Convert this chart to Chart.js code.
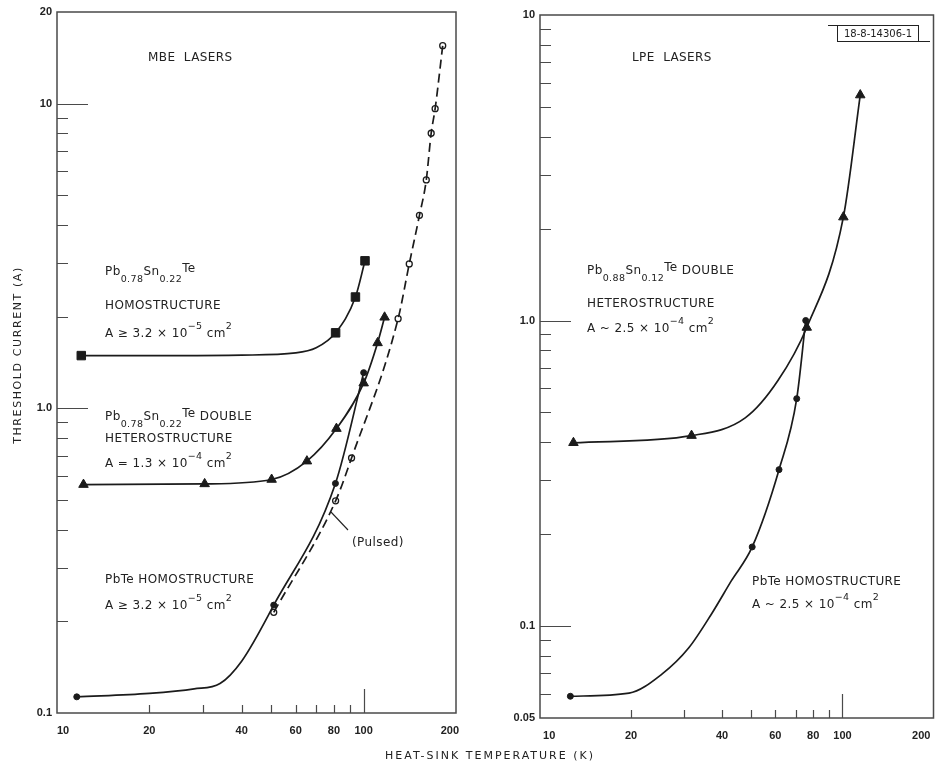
<!DOCTYPE html>
<html>
<head>
<meta charset="utf-8">
<script src="https://cdn.jsdelivr.net/npm/chart.js@4.4.1/dist/chart.umd.min.js"></script>
<style>
  body { margin: 0; background: #fff; }
  .wrap { position: relative; width: 940px; height: 766px; }
  canvas { position: absolute; left: 0; top: 0; }
</style>
</head>
<body>
<div class="wrap">
  <canvas id="mbe" width="940" height="766"></canvas>
  <canvas id="lpe" width="940" height="766"></canvas>
</div>
<script>
// ---- MBE lasers (left panel) ----
// Pb0.78Sn0.22Te homostructure (squares)
const mbeHomoT = [12, 81, 94, 101];
const mbeHomoI = [1.49, 1.77, 2.32, 3.05];
const mbeHomoCurveT = [12, 25, 40, 60, 70, 81, 94, 101];
const mbeHomoCurveI = [1.49, 1.49, 1.495, 1.52, 1.58, 1.77, 2.32, 3.05];
// Pb0.78Sn0.22Te double heterostructure (triangles)
const mbeDhT = [12.2, 30.3, 50.1, 65.3, 81.5, 100, 111, 117];
const mbeDhI = [0.562, 0.565, 0.584, 0.671, 0.858, 1.21, 1.64, 1.99];
// PbTe homostructure (dots)
const mbePbT = [11.6, 50.9, 80.9, 100];
const mbePbI = [0.113, 0.226, 0.567, 1.31];
const mbePbCurveT = [11.6, 20, 28, 34, 40, 50.9, 80.9, 100];
const mbePbCurveI = [0.113, 0.116, 0.12, 0.125, 0.148, 0.226, 0.567, 1.31];
// PbTe pulsed (open circles, dashed)
const mbePulsedT = [50.9, 81, 91.3, 129.5, 140.8, 152, 160, 166, 171, 181];
const mbePulsedI = [0.214, 0.497, 0.687, 1.97, 2.98, 4.3, 5.62, 8.0, 9.63, 15.5];

// ---- LPE lasers (right panel) ----
const lpeDhT = [12.9, 31.7, 76.2, 100.7, 114.5];
const lpeDhI = [0.398, 0.42, 0.949, 2.18, 5.47];
const lpeDhCurveT = [12.9, 31.7, 47.7, 61.2, 76.2, 100.7, 114.5];
const lpeDhCurveI = [0.398, 0.42, 0.48, 0.636, 0.949, 2.18, 5.47];
const lpePbT = [12.6, 50.3, 61.7, 70.6, 75.6];
const lpePbI = [0.0589, 0.1815, 0.325, 0.555, 1.0];
const lpePbCurveT = [12.6, 19.7, 25.3, 31, 36.9, 42.9, 50.3, 61.7, 70.6, 75.6];
const lpePbCurveI = [0.0589, 0.0603, 0.0696, 0.0847, 0.1095, 0.1405, 0.1815, 0.325, 0.555, 1.0];

// ---- ticks ----
const xTickLabels = [10, 20, 40, 60, 80, 100, 200];
const xMinorTicks = [20, 30, 40, 50, 60, 70, 80, 90];
const xMajorTicks = [100];
const mbeYLabels = [0.1, 1, 10, 20];
const mbeYMinor = [0.2, 0.3, 0.4, 0.5, 0.6, 0.7, 0.8, 0.9, 2, 3, 4, 5, 6, 7, 8, 9];
const mbeYMajor = [1, 10];
const lpeYLabels = [0.05, 0.1, 1, 10];
const lpeYMinor = [0.06, 0.07, 0.08, 0.09, 0.2, 0.3, 0.4, 0.5, 0.6, 0.7, 0.8, 0.9, 2, 3, 4, 5, 6, 7, 8, 9];
const lpeYMajor = [0.1, 1];

const ink = '#1b1b1b';
const frameInk = '#4a4a4a';
const textInk = '#222';
const textFont = '"DejaVu Sans", sans-serif';

const pts = (xs, ys) => xs.map((x, i) => ({ x: x, y: ys[i] }));

function curve(xs, ys, dashed) {
  return {
    data: pts(xs, ys), showLine: true, pointRadius: 0,
    borderColor: ink, borderWidth: 1.7, borderDash: dashed ? [9, 5] : [],
    cubicInterpolationMode: 'monotone'
  };
}
function marks(xs, ys, style, r, open) {
  return {
    data: pts(xs, ys), showLine: false, pointStyle: style, pointRadius: r,
    pointBackgroundColor: open ? '#fff' : ink, pointBorderColor: ink,
    pointBorderWidth: open ? 1.3 : 1
  };
}

function fmtY(v) {
  if (v === 1) return '1.0';
  return String(v);
}

// end labels sit a little inside the frame, as on the drawing
function fmtX(v, padEnds) {
  if (v === 10) return ' '.repeat(padEnds[0]) + '10';
  if (v === 200) return '200' + ' '.repeat(padEnds[1]);
  return String(v);
}

function scalesFor(yMin, yMax, yLabels, yWidth, padEnds) {
  const tickFont = { family: '"Liberation Sans", Arial, sans-serif', size: 11, weight: 'bold' };
  return {
    x: {
      type: 'logarithmic', min: 10, max: 200,
      grid: { display: false, drawTicks: false, tickLength: 0 }, border: { display: false },
      afterBuildTicks: s => { s.ticks = xTickLabels.map(v => ({ value: v })); },
      ticks: { callback: v => fmtX(v, padEnds), font: tickFont, color: textInk, padding: 11, maxRotation: 0, autoSkip: false },
      afterFit: s => { s.height = 25; s.paddingLeft = 0; s.paddingRight = 0; }
    },
    y: {
      type: 'logarithmic', min: yMin, max: yMax,
      grid: { display: false, drawTicks: false, tickLength: 0 }, border: { display: false },
      afterBuildTicks: s => { s.ticks = yLabels.map(v => ({ value: v })); },
      ticks: { callback: v => fmtY(v), font: tickFont, color: textInk, padding: 5, autoSkip: false },
      afterFit: s => { s.width = yWidth; s.paddingTop = 0; s.paddingBottom = 0; }
    }
  };
}

// frame box and inward tick marks
const frameTicks = {
  id: 'frameTicks',
  afterDatasetsDraw(chart, args, o) {
    const { ctx, chartArea: a } = chart;
    const x = chart.scales.x, y = chart.scales.y;
    ctx.save();
    ctx.strokeStyle = frameInk;
    ctx.lineWidth = 1.5;
    ctx.strokeRect(a.left, a.top, a.right - a.left, a.bottom - a.top);
    ctx.lineWidth = 1.2;
    ctx.beginPath();
    o.xMinor.forEach(v => { const p = Math.round(x.getPixelForValue(v)) + 0.5; ctx.moveTo(p, a.bottom); ctx.lineTo(p, a.bottom - 8); });
    o.xMajor.forEach(v => { const p = Math.round(x.getPixelForValue(v)) + 0.5; ctx.moveTo(p, a.bottom); ctx.lineTo(p, a.bottom - 24); });
    o.yMinor.forEach(v => { const p = Math.round(y.getPixelForValue(v)) + 0.5; ctx.moveTo(a.left, p); ctx.lineTo(a.left + 11, p); });
    o.yMajor.forEach(v => { const p = Math.round(y.getPixelForValue(v)) + 0.5; ctx.moveTo(a.left, p); ctx.lineTo(a.left + 31, p); });
    ctx.stroke();
    ctx.restore();
  }
};

// rich text: parts are [text, kind], kind '' | 'sub' | 'sup' | 'up'
function drawRich(ctx, x, y, parts) {
  let cx = x;
  parts.forEach(([t, kind]) => {
    const small = kind === 'sub' || kind === 'sup';
    ctx.font = (small ? 9.5 : 12) + 'px ' + textFont;
    const dy = kind === 'sub' ? 7 : kind === 'sup' ? -8 : kind === 'up' ? -3 : 0;
    ctx.fillText(t, cx, y + dy);
    cx += ctx.measureText(t).width;
  });
}

const notes = {
  id: 'notes',
  afterDraw(chart, args, o) {
    const ctx = chart.ctx;
    ctx.save();
    ctx.fillStyle = textInk;
    ctx.strokeStyle = textInk;
    ctx.textBaseline = 'alphabetic';
    ctx.letterSpacing = '0.4px';
    o.items.forEach(n => drawRich(ctx, n.x, n.y, n.parts));
    (o.lines || []).forEach(l => {
      ctx.lineWidth = 1.1;
      ctx.beginPath(); ctx.moveTo(l[0], l[1]); ctx.lineTo(l[2], l[3]); ctx.stroke();
    });
    if (o.axisTitles) {
      ctx.font = '11px ' + textFont;
      ctx.letterSpacing = '2px';
      ctx.textAlign = 'center';
      ctx.fillText('HEAT-SINK TEMPERATURE (K)', 490, 759);
      ctx.letterSpacing = '1.6px';
      ctx.translate(21, 355);
      ctx.rotate(-Math.PI / 2);
      ctx.fillText('THRESHOLD CURRENT (A)', 0, 0);
    }
    if (o.tag) {
      ctx.lineWidth = 1;
      ctx.beginPath();
      ctx.moveTo(828, 25.5); ctx.lineTo(919, 25.5);
      ctx.moveTo(837, 41.5); ctx.lineTo(930, 41.5);
      ctx.moveTo(837.5, 25); ctx.lineTo(837.5, 42);
      ctx.moveTo(918.5, 25); ctx.lineTo(918.5, 42);
      ctx.stroke();
      ctx.font = '10px ' + textFont;
      ctx.letterSpacing = '0px';
      ctx.textAlign = 'center';
      ctx.fillText('18-8-14306-1', 878, 37);
    }
    ctx.restore();
  }
};

const areaLeft = [
  ['A \u2265 3.2 \u00d7 10', ''], ['\u22125', 'sup'], [' cm', ''], ['2', 'sup']
];

new Chart(document.getElementById('mbe'), {
  type: 'scatter',
  data: {
    datasets: [
      curve(mbeHomoCurveT, mbeHomoCurveI, false),
      curve(mbeDhT, mbeDhI, false),
      curve(mbePbCurveT, mbePbCurveI, false),
      curve(mbePulsedT, mbePulsedI, true),
      marks(mbeHomoT, mbeHomoI, 'rect', 6, false),
      marks(mbeDhT, mbeDhI, 'triangle', 5.5, false),
      marks(mbePbT, mbePbI, 'circle', 3, false),
      marks(mbePulsedT, mbePulsedI, 'circle', 3, true)
    ]
  },
  options: {
    responsive: false, animation: false,
    layout: { padding: { left: 0, top: 12, right: 484, bottom: 28 } },
    scales: scalesFor(0.1, 20, mbeYLabels, 57, [4, 4]),
    plugins: {
      legend: { display: false }, tooltip: { enabled: false },
      frameTicks: { xMinor: xMinorTicks, xMajor: xMajorTicks, yMinor: mbeYMinor, yMajor: mbeYMajor },
      notes: {
        axisTitles: true,
        items: [
          { x: 148, y: 61, parts: [['MBE  LASERS', '']] },
          { x: 105, y: 275, parts: [['Pb', ''], ['0.78', 'sub'], ['Sn', ''], ['0.22', 'sub'], ['Te', 'up']] },
          { x: 105, y: 309, parts: [['HOMOSTRUCTURE', '']] },
          { x: 105, y: 337, parts: areaLeft },
          { x: 105, y: 420, parts: [['Pb', ''], ['0.78', 'sub'], ['Sn', ''], ['0.22', 'sub'], ['Te', 'up'], [' DOUBLE', '']] },
          { x: 105, y: 442, parts: [['HETEROSTRUCTURE', '']] },
          { x: 105, y: 467, parts: [['A = 1.3 \u00d7 10', ''], ['\u22124', 'sup'], [' cm', ''], ['2', 'sup']] },
          { x: 352, y: 546, parts: [['(Pulsed)', '']] },
          { x: 105, y: 583, parts: [['PbTe HOMOSTRUCTURE', '']] },
          { x: 105, y: 609, parts: areaLeft }
        ],
        lines: [[331, 512, 348, 530]]
      }
    }
  },
  plugins: [frameTicks, notes]
});

new Chart(document.getElementById('lpe'), {
  type: 'scatter',
  data: {
    datasets: [
      curve(lpeDhCurveT, lpeDhCurveI, false),
      curve(lpePbCurveT, lpePbCurveI, false),
      marks(lpeDhT, lpeDhI, 'triangle', 5.5, false),
      marks(lpePbT, lpePbI, 'circle', 3, false)
    ]
  },
  options: {
    responsive: false, animation: false,
    layout: { padding: { left: 0, top: 15, right: 2, bottom: 23 } },
    scales: scalesFor(0.05, 10, lpeYLabels, 540, [6, 8]),
    plugins: {
      legend: { display: false }, tooltip: { enabled: false },
      frameTicks: { xMinor: xMinorTicks, xMajor: xMajorTicks, yMinor: lpeYMinor, yMajor: lpeYMajor },
      notes: {
        tag: true,
        items: [
          { x: 632, y: 61, parts: [['LPE  LASERS', '']] },
          { x: 587, y: 274, parts: [['Pb', ''], ['0.88', 'sub'], ['Sn', ''], ['0.12', 'sub'], ['Te', 'up'], [' DOUBLE', '']] },
          { x: 587, y: 307, parts: [['HETEROSTRUCTURE', '']] },
          { x: 587, y: 332, parts: [['A ~ 2.5 \u00d7 10', ''], ['\u22124', 'sup'], [' cm', ''], ['2', 'sup']] },
          { x: 752, y: 585, parts: [['PbTe HOMOSTRUCTURE', '']] },
          { x: 752, y: 608, parts: [['A ~ 2.5 \u00d7 10', ''], ['\u22124', 'sup'], [' cm', ''], ['2', 'sup']] }
        ]
      }
    }
  },
  plugins: [frameTicks, notes]
});
</script>
</body>
</html>
